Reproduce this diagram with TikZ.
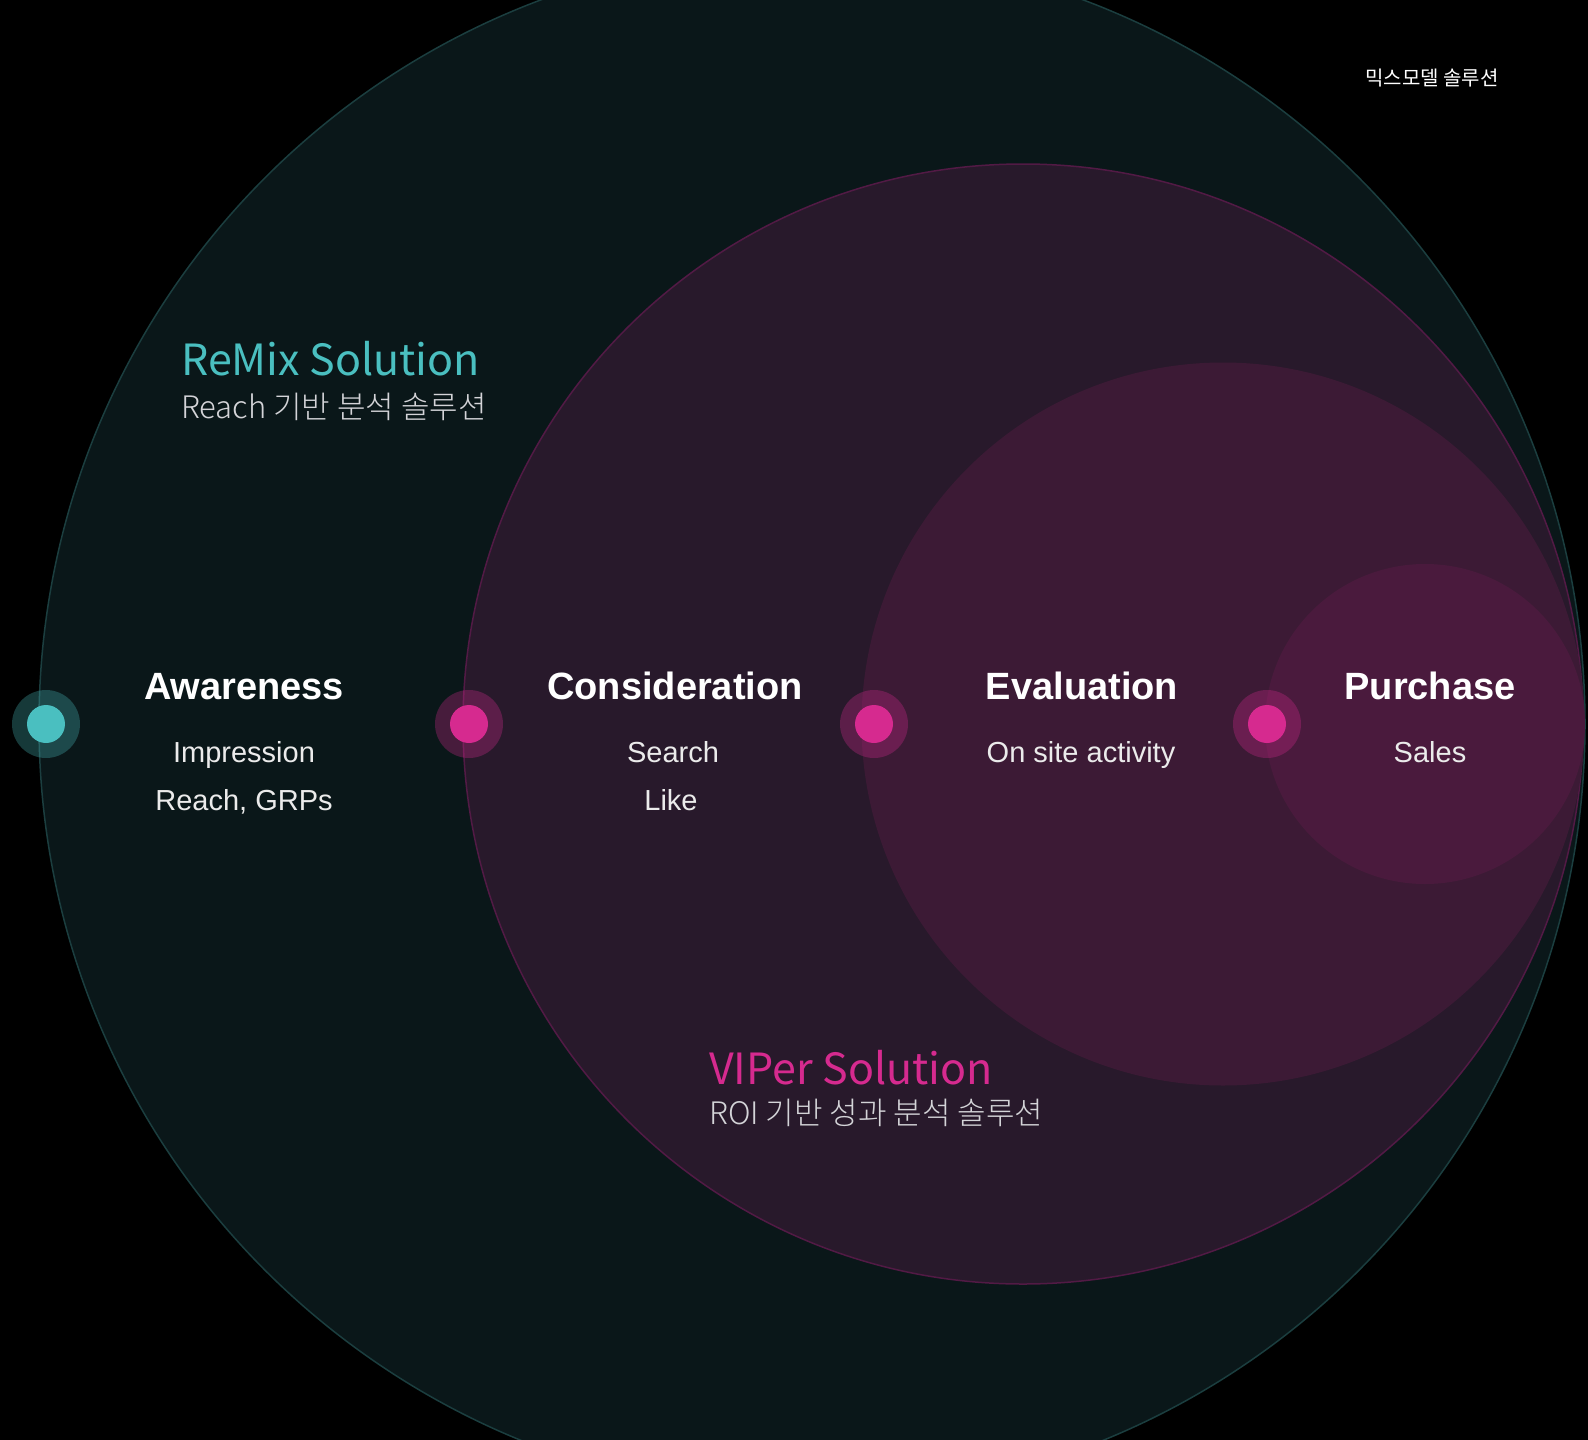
\documentclass[tikz,border=0pt]{standalone}
\usepackage{fontspec}
\setmainfont{Liberation Sans}
\newfontfamily\kr{Noto Sans CJK KR}
\newfontfamily\krl{Noto Sans CJK KR}[UprightFont={* Light}]
\definecolor{cbig}{HTML}{0A1719}
\definecolor{cbigs}{HTML}{1B3E3F}
\definecolor{ctwo}{HTML}{28192B}
\definecolor{ctwos}{HTML}{521A45}
\definecolor{cthree}{HTML}{3C1A35}
\definecolor{cfour}{HTML}{4A1A3D}
\definecolor{teal}{HTML}{4ABFC0}
\definecolor{pink}{HTML}{D62A8F}
\definecolor{subgray}{HTML}{D4D4D8}
\tikzset{
  ttl/.style={anchor=base, text=white, font=\bfseries\fontsize{38}{44}\selectfont, inner sep=0pt},
  sub/.style={anchor=base, text=white!92!black, font=\fontsize{29}{34}\selectfont, inner sep=0pt},
  halo/.style={circle, minimum size=68pt, inner sep=0pt, fill=#1, fill opacity=0.3},
  core/.style={circle, minimum size=38pt, inner sep=0pt, fill=#1},
  headline/.style={anchor=base west, inner sep=0pt, text=#1, font=\kr\fontsize{43}{50}\selectfont},
  tagline/.style={anchor=base west, inner sep=0pt, text=subgray, font=\krl\fontsize{31}{36}\selectfont}
}
\begin{document}
\begin{tikzpicture}[x=1pt,y=-1pt]
\fill[black] (0,0) rectangle (1588,1440);
\useasboundingbox (0,0) rectangle (1588,1440);
\begin{scope}
\clip (0,0) rectangle (1588,1440);
\filldraw[fill=cbig, draw=cbigs, line width=1.5pt] (812,724) circle (773pt);
\filldraw[fill=ctwo, draw=ctwos, line width=1.5pt] (1023,724) circle (560pt);
\fill[cthree] (1223,724) circle (361.5pt);
\fill[cfour] (1425,724) circle (160pt);
\end{scope}

% dots
\node[halo=teal] (h1) at (46,724) {};
\node[core=teal] (d1) at (46,724) {};
\node[halo=pink] (h2) at (469,724) {};
\node[core=pink] (d2) at (469,724) {};
\node[halo=pink] (h3) at (874,724) {};
\node[core=pink] (d3) at (874,724) {};
\node[halo=pink] (h4) at (1267,724) {};
\node[core=pink] (d4) at (1267,724) {};

% stage labels
\node[ttl] (aw) at (244,699) {Awareness};
\node[sub] (aw1) at (244,762) {Impression};
\node[sub] (aw2) at (244,810) {Reach, GRPs};
\node[ttl] (co) at (675,699) {Consideration};
\node[sub] (co1) at (673,762) {Search};
\node[sub] (co2) at (671,810) {Like};
\node[ttl] (ev) at (1082,699) {Evaluation};
\node[sub] (ev1) at (1081,762) {On site activity};
\node[ttl] (pu) at (1430,699) {Purchase};
\node[sub] (pu1) at (1430,762) {Sales};

% solutions
\node[headline=teal] (remix) at (181,375) {ReMix Solution};
\node[tagline] (remixs) at (181,418) {Reach 기반 분석 솔루션};
\node[headline=pink] (viper) at (709,1084) {VIPer Solution};
\node[tagline] (vipers) at (709,1124) {ROI 기반 성과 분석 솔루션};

\node[anchor=base west, inner sep=0pt, text=white, font=\kr\fontsize{20}{23}\selectfont] (mix) at (1365,85) {믹스모델 솔루션};
\end{tikzpicture}
\end{document}
